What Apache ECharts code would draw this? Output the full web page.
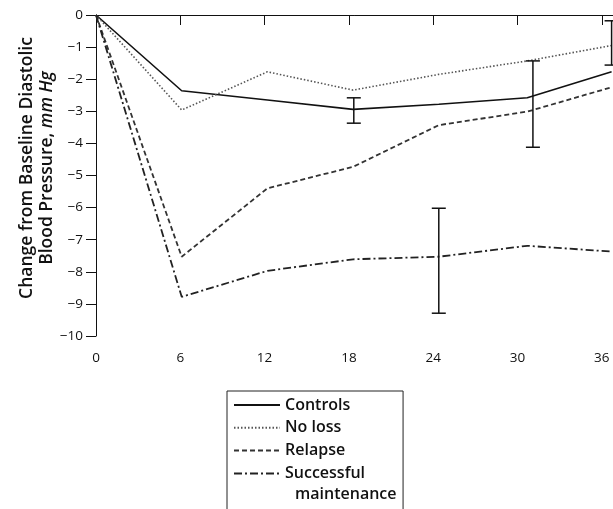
<!DOCTYPE html>
<html>
<head>
<meta charset="utf-8">
<script src="https://cdn.jsdelivr.net/npm/echarts@6/dist/echarts.min.js"></script>
<style>
  html, body { margin: 0; padding: 0; background: #fff; }
  #chart { width: 613px; height: 509px; }
</style>
</head>
<body>
<div id="chart"></div>
<script>
// Months since baseline at which each group was measured
const months = [0, 6.1, 12.2, 18.3, 24.4, 30.7, 36.7];

// Change from baseline diastolic blood pressure (mm Hg)
const controls   = [0, -2.36, -2.65, -2.94, -2.78, -2.58, -1.77];
const noLoss     = [0, -2.96, -1.77, -2.34, -1.85, -1.43, -0.95];
const relapse    = [0, -7.53, -5.40, -4.73, -3.43, -3.01, -2.25];
const successful = [0, -8.78, -7.97, -7.61, -7.53, -7.19, -7.37];

// Error bars: [month, upper, lower]
const errorBars = [
  [18.35, -2.58, -3.37],
  [24.4, -6.02, -9.29],
  [31.1, -1.43, -4.12],
  [36.7, -0.18, -1.56]
];

// Axis tick labels
const xTickValues = [0, 6, 12, 18, 24, 30, 36];
const yTickValues = [0, -1, -2, -3, -4, -5, -6, -7, -8, -9, -10];

const X_MIN = 0, X_MAX = 36.8;
const Y_MIN = -10, Y_MAX = 0;

const FONT = 'Open Sans';
const pair = (xs, ys) => xs.map((x, i) => [x, ys[i]]);

const chart = echarts.init(document.getElementById('chart'), null, { renderer: 'canvas' });

const lineSeries = (name, data, style) => ({
  name: name,
  type: 'line',
  data: pair(months, data),
  symbol: 'none',
  showSymbol: false,
  smooth: false,
  lineStyle: style,
  itemStyle: { color: style.color },
  emphasis: { disabled: true },
  clip: false,
  z: 3
});

chart.setOption({
  animation: false,
  backgroundColor: '#fff',
  textStyle: { fontFamily: FONT },
  grid: { left: 96, top: 15, right: 0, bottom: 173, containLabel: false },
  xAxis: [{
    type: 'value',
    min: X_MIN, max: X_MAX,
    axisLine: { lineStyle: { color: '#111', width: 1 } },
    axisTick: { length: 10, lineStyle: { color: '#111' }, customValues: xTickValues },
    axisLabel: { color: '#111', fontSize: 13.5, margin: 15, fontFamily: FONT, customValues: xTickValues },
    splitLine: { show: false }
  }, {
    type: 'value', position: 'top',
    min: X_MIN, max: X_MAX,
    axisLine: { show: true, lineStyle: { color: '#111', width: 1 } },
    axisTick: { show: false }, axisLabel: { show: false }, splitLine: { show: false }
  }],
  yAxis: {
    type: 'value',
    min: Y_MIN, max: Y_MAX,
    axisLine: { show: true, lineStyle: { color: '#111', width: 1 } },
    axisTick: { show: true, length: 10, lineStyle: { color: '#111' }, customValues: yTickValues },
    axisLabel: {
      color: '#111', fontSize: 13.5, margin: 13, fontFamily: FONT,
      customValues: yTickValues,
      formatter: v => (v < 0 ? '\u2212' + Math.abs(v) : String(v))
    },
    splitLine: { show: false }
  },
  legend: {
    orient: 'vertical',
    left: 227, top: 391, height: 200,
    itemWidth: 46, itemHeight: 14, itemGap: 6.8,
    padding: [6, 38, 50, 6],
    borderColor: '#222', borderWidth: 1, borderRadius: 0,
    selectedMode: false,
    itemStyle: { opacity: 0 },
    textStyle: { color: '#111', fontSize: 16, fontWeight: 600, fontFamily: FONT },
    formatter: name => (name === 'Successful maintenance' ? 'Successful' : name),
    data: ['Controls', 'No loss', 'Relapse', 'Successful maintenance']
  },
  graphic: [
    {
      type: 'text',
      x: 37, y: 168,
      rotation: Math.PI / 2,
      style: {
        x: 0, y: 0,
        align: 'center', verticalAlign: 'middle',
        text: '{b|Change from Baseline Diastolic}\n{b|Blood Pressure, }{i|mm Hg}',
        rich: {
          b: { fontFamily: FONT, fontSize: 17.5, fontWeight: 600, fill: '#111', lineHeight: 20 },
          i: { fontFamily: FONT, fontSize: 17.5, fontWeight: 600, fontStyle: 'italic', fill: '#111', lineHeight: 20 }
        }
      }
    },
    {
      type: 'text',
      left: 295, top: 486,
      style: { text: 'maintenance', fontFamily: FONT, fontSize: 16, fontWeight: 600, fill: '#111' }
    }
  ],
  series: [
    lineSeries('Controls', controls, { color: '#111', width: 1.6, type: 'solid' }),
    lineSeries('No loss', noLoss, { color: '#555', width: 1.6, type: [1.5, 2] }),
    lineSeries('Relapse', relapse, { color: '#333', width: 1.8, type: [5, 3] }),
    lineSeries('Successful maintenance', successful, { color: '#222', width: 1.8, type: [8, 3, 2, 3] }),
    {
      type: 'custom',
      name: 'error',
      data: errorBars,
      z: 4,
      silent: true,
      clip: false,
      renderItem: function (params, api) {
        const top = api.coord([api.value(0), api.value(1)]);
        const bot = api.coord([api.value(0), api.value(2)]);
        const x = top[0];
        const half = 7;
        const st = { stroke: '#111', lineWidth: 1.5 };
        return {
          type: 'group',
          children: [
            { type: 'line', shape: { x1: x, y1: top[1], x2: x, y2: bot[1] }, style: st },
            { type: 'line', shape: { x1: x - half, y1: top[1], x2: x + half, y2: top[1] }, style: st },
            { type: 'line', shape: { x1: x - half, y1: bot[1], x2: x + half, y2: bot[1] }, style: st }
          ]
        };
      }
    }
  ]
});
</script>
</body>
</html>
